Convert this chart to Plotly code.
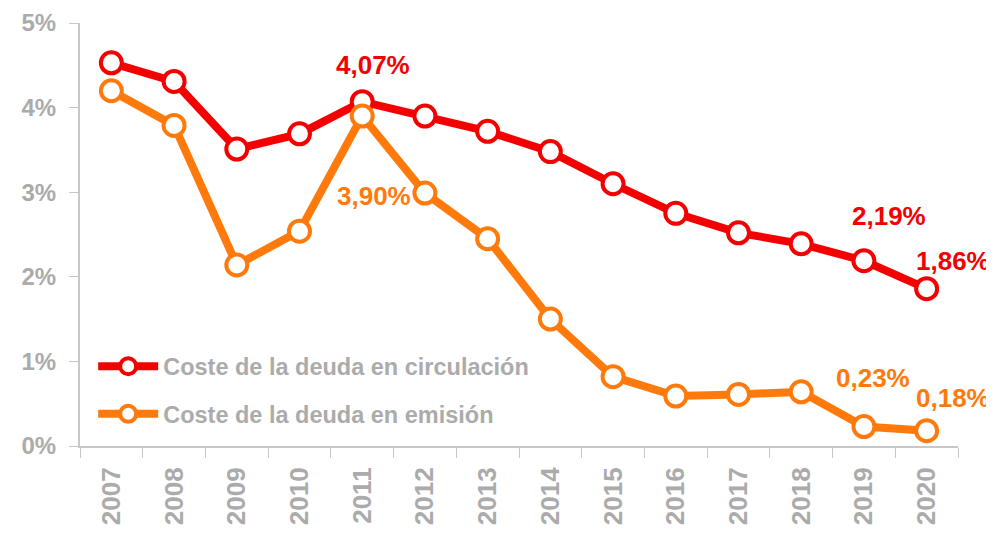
import plotly.graph_objects as go

years = [str(y) for y in range(2007, 2021)]
circulacion = [4.53, 4.31, 3.51, 3.69, 4.07, 3.90, 3.72, 3.48, 3.10, 2.75, 2.52, 2.39, 2.19, 1.86]
emision = [4.20, 3.79, 2.14, 2.54, 3.90, 2.99, 2.45, 1.50, 0.82, 0.59, 0.61, 0.64, 0.23, 0.18]
y_ticks = [0, 1, 2, 3, 4, 5]
y_ticktext = ["0%", "1%", "2%", "3%", "4%", "5%"]
name_circ = "Coste de la deuda en circulación"
name_emi = "Coste de la deuda en emisión"
red = "#f50000"
orange = "#ff7a0a"
gray = "#ababab"
axis_col = "#c8c8c8"
font_family = "Liberation Sans, Arial, sans-serif"

xi = list(range(len(years)))
xrange_ = [-0.5, len(years) - 0.5]
yrange_ = [0, 5.0005]

fig = go.Figure()
for name, vals, col in [(name_circ, circulacion, red), (name_emi, emision, orange)]:
    fig.add_trace(go.Scatter(
        x=xi, y=vals, name=name, legendgroup=name, mode="lines+markers",
        line=dict(color=col, width=8),
        marker=dict(size=21, color="white", line=dict(color=col, width=4)),
    ))

labels = [
    (4, circulacion[4], "4,07%", red, 11, 37),
    (4, emision[4], "3,90%", orange, 12, -80),
    (12, circulacion[12], "2,19%", red, 25, 45),
    (13, circulacion[13], "1,86%", red, 26, 28),
    (12, emision[12], "0,23%", orange, 9, 49),
    (13, emision[13], "0,18%", orange, 26, 33),
]
for x, y, t, c, xs, ys in labels:
    fig.add_annotation(x=x, y=y, text=t, showarrow=False,
                       xshift=xs, yshift=ys,
                       font=dict(color=c, size=26, family=font_family, weight="bold"))

fig.update_layout(
    width=994, height=534,
    margin=dict(l=72, r=44, t=15, b=96),
    plot_bgcolor="white", paper_bgcolor="white",
    font=dict(family=font_family, color=gray),
    showlegend=True,
    legend=dict(x=0.015, y=0.24, xanchor="left", yanchor="top",
                bgcolor="rgba(0,0,0,0)", tracegroupgap=14, itemwidth=60,
                font=dict(size=23.5, color=gray, family=font_family, weight="bold")),
    xaxis=dict(range=xrange_, tickvals=xi, ticktext=years,
               ticks="", showline=True, ticklabelstandoff=9,
               linecolor=axis_col, linewidth=2, showgrid=False, zeroline=False,
               tickangle=-90, automargin=False,
               minor=dict(tick0=0.5, dtick=1, ticks="outside", ticklen=10,
                          tickcolor=axis_col, tickwidth=1, showgrid=False),
               tickfont=dict(size=26, color=gray, family=font_family, weight="bold")),
    yaxis=dict(range=yrange_, tickvals=y_ticks, ticktext=y_ticktext,
               automargin=False, ticklabelstandoff=8, ticklabeloverflow="allow",
               ticks="outside", ticklen=9, tickcolor=axis_col,
               showline=True, linecolor=axis_col, linewidth=2,
               showgrid=False, zeroline=False,
               tickfont=dict(size=24, color=gray, family=font_family, weight="bold")),
    xaxis2=dict(overlaying="x", anchor="y", range=xrange_, side="bottom",
                showticklabels=False, showline=False, showgrid=False, zeroline=False,
                tickvals=xi, ticks="",
                minor=dict(tick0=0.5, dtick=1, ticks="inside", ticklen=8,
                           tickcolor=axis_col, tickwidth=1, showgrid=False)),
    yaxis2=dict(overlaying="y", anchor="x", range=yrange_, side="left",
                tickvals=y_ticks, ticks="inside", ticklen=8, tickcolor=axis_col,
                showticklabels=False, showline=False, showgrid=False, zeroline=False),
)

fig.write_html("out.html")
